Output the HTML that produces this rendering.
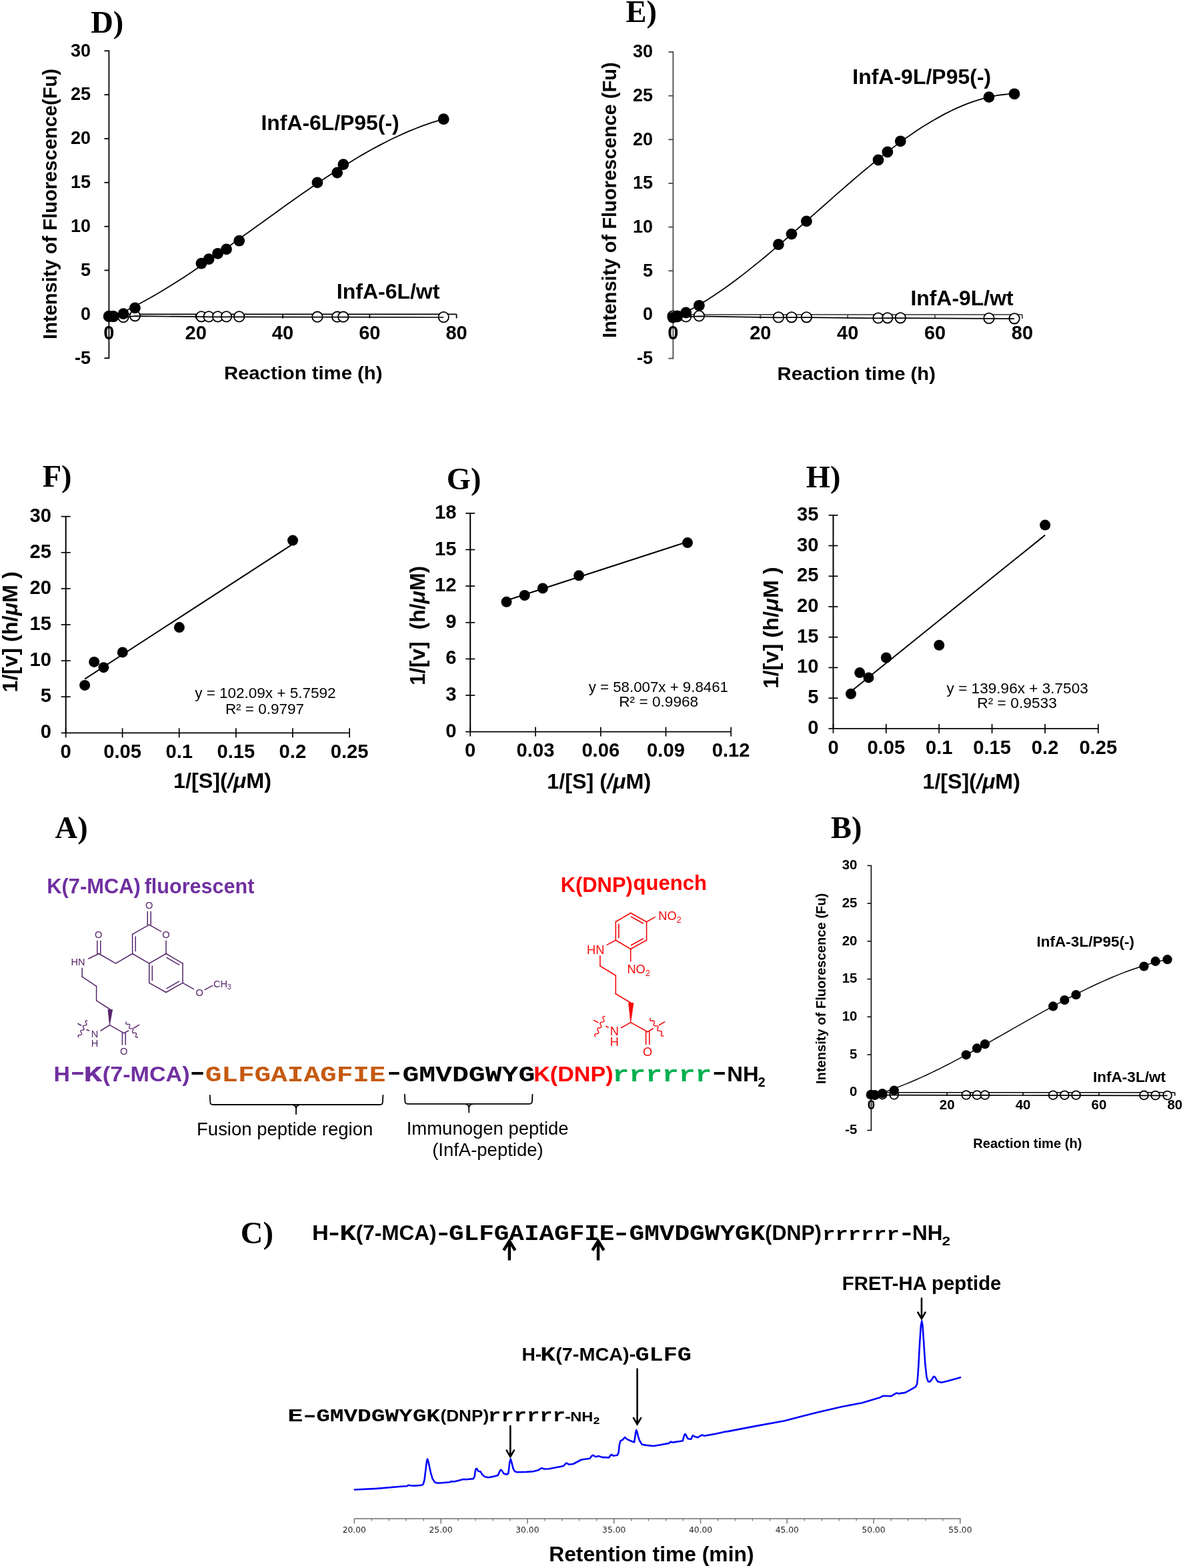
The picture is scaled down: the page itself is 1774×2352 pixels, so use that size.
<!DOCTYPE html>
<html lang="en"><head><meta charset="utf-8"><title>Figure</title>
<style>
html,body{margin:0;padding:0;background:#fff;}
svg{display:block;}
text{font-family:"Liberation Sans",Arial,Helvetica,sans-serif;}
text.s{font-family:"Liberation Sans",Arial,Helvetica,sans-serif;}
text.r{font-family:"Liberation Serif","Times New Roman",Times,serif;}
text.m{font-family:"Liberation Mono","Courier New",Courier,monospace;}
</style></head><body>
<svg width="1774" height="2352" viewBox="0 0 1774 2352">
<rect x="0" y="0" width="1774" height="2352" fill="#ffffff"/>
<g>
<line x1="163.4" y1="75.4" x2="163.4" y2="538.1" stroke="#000" stroke-width="1.8"/>
<line x1="163.4" y1="471.4" x2="684.6" y2="471.4" stroke="#000" stroke-width="1.8"/>
<line x1="156.4" y1="537.2" x2="163.4" y2="537.2" stroke="#000" stroke-width="1.8"/>
<text class="s" x="136.0" y="545.5" font-size="27" font-weight="bold" text-anchor="end">-5</text>
<line x1="156.4" y1="471.4" x2="163.4" y2="471.4" stroke="#000" stroke-width="1.8"/>
<text class="s" x="136.0" y="479.7" font-size="27" font-weight="bold" text-anchor="end">0</text>
<line x1="156.4" y1="405.5" x2="163.4" y2="405.5" stroke="#000" stroke-width="1.8"/>
<text class="s" x="136.0" y="413.8" font-size="27" font-weight="bold" text-anchor="end">5</text>
<line x1="156.4" y1="339.7" x2="163.4" y2="339.7" stroke="#000" stroke-width="1.8"/>
<text class="s" x="136.0" y="348.0" font-size="27" font-weight="bold" text-anchor="end">10</text>
<line x1="156.4" y1="273.8" x2="163.4" y2="273.8" stroke="#000" stroke-width="1.8"/>
<text class="s" x="136.0" y="282.1" font-size="27" font-weight="bold" text-anchor="end">15</text>
<line x1="156.4" y1="208.0" x2="163.4" y2="208.0" stroke="#000" stroke-width="1.8"/>
<text class="s" x="136.0" y="216.3" font-size="27" font-weight="bold" text-anchor="end">20</text>
<line x1="156.4" y1="142.1" x2="163.4" y2="142.1" stroke="#000" stroke-width="1.8"/>
<text class="s" x="136.0" y="150.4" font-size="27" font-weight="bold" text-anchor="end">25</text>
<line x1="156.4" y1="76.3" x2="163.4" y2="76.3" stroke="#000" stroke-width="1.8"/>
<text class="s" x="136.0" y="84.6" font-size="27" font-weight="bold" text-anchor="end">30</text>
<text class="s" x="163.4" y="508.9" font-size="29" font-weight="bold" text-anchor="middle">0</text>
<line x1="293.7" y1="471.4" x2="293.7" y2="477.4" stroke="#000" stroke-width="1.8"/>
<text class="s" x="293.7" y="508.9" font-size="29" font-weight="bold" text-anchor="middle">20</text>
<line x1="424.0" y1="471.4" x2="424.0" y2="477.4" stroke="#000" stroke-width="1.8"/>
<text class="s" x="424.0" y="508.9" font-size="29" font-weight="bold" text-anchor="middle">40</text>
<line x1="554.3" y1="471.4" x2="554.3" y2="477.4" stroke="#000" stroke-width="1.8"/>
<text class="s" x="554.3" y="508.9" font-size="29" font-weight="bold" text-anchor="middle">60</text>
<line x1="684.6" y1="471.4" x2="684.6" y2="477.4" stroke="#000" stroke-width="1.8"/>
<text class="s" x="684.6" y="508.9" font-size="29" font-weight="bold" text-anchor="middle">80</text>
<circle cx="163.4" cy="474.4" r="7.7" fill="#fff" stroke="#000" stroke-width="1.8"/>
<circle cx="170.0" cy="474.6" r="7.7" fill="#fff" stroke="#000" stroke-width="1.8"/>
<circle cx="185.0" cy="475.6" r="7.7" fill="#fff" stroke="#000" stroke-width="1.8"/>
<circle cx="202.4" cy="473.8" r="7.7" fill="#fff" stroke="#000" stroke-width="1.8"/>
<circle cx="301.9" cy="474.8" r="7.7" fill="#fff" stroke="#000" stroke-width="1.8"/>
<circle cx="313.1" cy="474.9" r="7.7" fill="#fff" stroke="#000" stroke-width="1.8"/>
<circle cx="326.6" cy="474.9" r="7.7" fill="#fff" stroke="#000" stroke-width="1.8"/>
<circle cx="339.5" cy="474.9" r="7.7" fill="#fff" stroke="#000" stroke-width="1.8"/>
<circle cx="358.7" cy="474.9" r="7.7" fill="#fff" stroke="#000" stroke-width="1.8"/>
<circle cx="475.9" cy="475.2" r="7.7" fill="#fff" stroke="#000" stroke-width="1.8"/>
<circle cx="505.7" cy="475.2" r="7.7" fill="#fff" stroke="#000" stroke-width="1.8"/>
<circle cx="514.8" cy="475.2" r="7.7" fill="#fff" stroke="#000" stroke-width="1.8"/>
<circle cx="665.2" cy="475.6" r="7.7" fill="#fff" stroke="#000" stroke-width="1.8"/>
<path d="M163.4,474.8 L170.0,475.0 L185.0,476.0 L202.4,474.2 L301.9,475.2 L313.1,475.3 L326.6,475.3 L339.5,475.3 L358.7,475.3 L475.9,475.6 L505.7,475.6 L514.8,475.6 L665.2,476.0" stroke="#000" stroke-width="1.7" fill="none"/>
<path d="M163.4,477.7 L171.9,474.0 L180.4,470.1 L188.9,466.0 L197.4,461.8 L205.9,457.3 L214.4,452.8 L222.9,448.0 L231.4,443.2 L239.9,438.2 L248.5,433.0 L257.0,427.8 L265.5,422.4 L274.0,417.0 L282.5,411.4 L291.0,405.8 L299.5,400.1 L308.0,394.2 L316.5,388.4 L325.0,382.4 L333.5,376.5 L342.0,370.4 L350.5,364.3 L359.0,358.2 L367.5,352.1 L376.0,346.0 L384.5,339.8 L393.0,333.7 L401.5,327.5 L410.0,321.4 L418.6,315.2 L427.1,309.1 L435.6,303.1 L444.1,297.1 L452.6,291.1 L461.1,285.2 L469.6,279.3 L478.1,273.5 L486.6,267.8 L495.1,262.2 L503.6,256.7 L512.1,251.2 L520.6,245.9 L529.1,240.7 L537.6,235.6 L546.1,230.6 L554.6,225.8 L563.1,221.1 L571.6,216.6 L580.1,212.2 L588.7,208.0 L597.2,204.0 L605.7,200.1 L614.2,196.4 L622.7,193.0 L631.2,189.7 L639.7,186.6 L648.2,183.7 L656.7,181.1 L665.2,178.7" stroke="#000" stroke-width="1.8" fill="none" stroke-linejoin="round"/>
<circle cx="163.4" cy="474.6" r="8.4" fill="#000"/>
<circle cx="170.0" cy="474.6" r="8.4" fill="#000"/>
<circle cx="185.0" cy="470.7" r="8.4" fill="#000"/>
<circle cx="202.4" cy="461.9" r="8.4" fill="#000"/>
<circle cx="301.9" cy="395.2" r="8.4" fill="#000"/>
<circle cx="313.1" cy="388.7" r="8.4" fill="#000"/>
<circle cx="326.6" cy="380.3" r="8.4" fill="#000"/>
<circle cx="339.5" cy="373.9" r="8.4" fill="#000"/>
<circle cx="358.7" cy="361.2" r="8.4" fill="#000"/>
<circle cx="475.9" cy="273.9" r="8.4" fill="#000"/>
<circle cx="505.7" cy="259.0" r="8.4" fill="#000"/>
<circle cx="514.8" cy="246.7" r="8.4" fill="#000"/>
<circle cx="665.2" cy="178.7" r="8.4" fill="#000"/>
</g>
<text class="r" x="136.2" y="49.4" font-size="46.5" font-weight="bold">D)</text>
<text class="s" x="85.0" y="508.9" font-size="28.7" font-weight="bold" transform="rotate(-90 85.0 508.9)" textLength="405.8" lengthAdjust="spacingAndGlyphs">Intensity of Fluorescence(Fu)</text>
<text class="s" x="335.9" y="568.8" font-size="28.5" font-weight="bold" textLength="237.6" lengthAdjust="spacingAndGlyphs">Reaction time (h)</text>
<text class="s" x="391.5" y="194.8" font-size="31" font-weight="bold" textLength="207.1" lengthAdjust="spacingAndGlyphs">InfA-6L/P95(-)</text>
<text class="s" x="504.8" y="448.3" font-size="31" font-weight="bold" textLength="154.6" lengthAdjust="spacingAndGlyphs">InfA-6L/wt</text>
<g>
<line x1="1009.4" y1="77.1" x2="1009.4" y2="538.5" stroke="#4a4a4a" stroke-width="1.8"/>
<line x1="1009.4" y1="471.9" x2="1533.0" y2="471.9" stroke="#4a4a4a" stroke-width="1.8"/>
<line x1="1002.4" y1="537.6" x2="1009.4" y2="537.6" stroke="#4a4a4a" stroke-width="1.8"/>
<text class="s" x="979.0" y="545.9" font-size="27" font-weight="bold" text-anchor="end">-5</text>
<line x1="1002.4" y1="471.9" x2="1009.4" y2="471.9" stroke="#4a4a4a" stroke-width="1.8"/>
<text class="s" x="979.0" y="480.2" font-size="27" font-weight="bold" text-anchor="end">0</text>
<line x1="1002.4" y1="406.3" x2="1009.4" y2="406.3" stroke="#4a4a4a" stroke-width="1.8"/>
<text class="s" x="979.0" y="414.6" font-size="27" font-weight="bold" text-anchor="end">5</text>
<line x1="1002.4" y1="340.6" x2="1009.4" y2="340.6" stroke="#4a4a4a" stroke-width="1.8"/>
<text class="s" x="979.0" y="348.9" font-size="27" font-weight="bold" text-anchor="end">10</text>
<line x1="1002.4" y1="275.0" x2="1009.4" y2="275.0" stroke="#4a4a4a" stroke-width="1.8"/>
<text class="s" x="979.0" y="283.3" font-size="27" font-weight="bold" text-anchor="end">15</text>
<line x1="1002.4" y1="209.3" x2="1009.4" y2="209.3" stroke="#4a4a4a" stroke-width="1.8"/>
<text class="s" x="979.0" y="217.6" font-size="27" font-weight="bold" text-anchor="end">20</text>
<line x1="1002.4" y1="143.7" x2="1009.4" y2="143.7" stroke="#4a4a4a" stroke-width="1.8"/>
<text class="s" x="979.0" y="152.0" font-size="27" font-weight="bold" text-anchor="end">25</text>
<line x1="1002.4" y1="78.0" x2="1009.4" y2="78.0" stroke="#4a4a4a" stroke-width="1.8"/>
<text class="s" x="979.0" y="86.3" font-size="27" font-weight="bold" text-anchor="end">30</text>
<text class="s" x="1009.4" y="508.9" font-size="29" font-weight="bold" text-anchor="middle">0</text>
<line x1="1140.3" y1="471.9" x2="1140.3" y2="477.9" stroke="#4a4a4a" stroke-width="1.8"/>
<text class="s" x="1140.3" y="508.9" font-size="29" font-weight="bold" text-anchor="middle">20</text>
<line x1="1271.2" y1="471.9" x2="1271.2" y2="477.9" stroke="#4a4a4a" stroke-width="1.8"/>
<text class="s" x="1271.2" y="508.9" font-size="29" font-weight="bold" text-anchor="middle">40</text>
<line x1="1402.1" y1="471.9" x2="1402.1" y2="477.9" stroke="#4a4a4a" stroke-width="1.8"/>
<text class="s" x="1402.1" y="508.9" font-size="29" font-weight="bold" text-anchor="middle">60</text>
<line x1="1533.0" y1="471.9" x2="1533.0" y2="477.9" stroke="#4a4a4a" stroke-width="1.8"/>
<text class="s" x="1533.0" y="508.9" font-size="29" font-weight="bold" text-anchor="middle">80</text>
<circle cx="1009.0" cy="474.1" r="7.7" fill="#fff" stroke="#000" stroke-width="1.8"/>
<circle cx="1015.6" cy="474.2" r="7.7" fill="#fff" stroke="#000" stroke-width="1.8"/>
<circle cx="1028.6" cy="474.9" r="7.7" fill="#fff" stroke="#000" stroke-width="1.8"/>
<circle cx="1048.4" cy="473.9" r="7.7" fill="#fff" stroke="#000" stroke-width="1.8"/>
<circle cx="1167.4" cy="475.9" r="7.7" fill="#fff" stroke="#000" stroke-width="1.8"/>
<circle cx="1187.0" cy="475.8" r="7.7" fill="#fff" stroke="#000" stroke-width="1.8"/>
<circle cx="1209.4" cy="475.8" r="7.7" fill="#fff" stroke="#000" stroke-width="1.8"/>
<circle cx="1317.0" cy="477.0" r="7.7" fill="#fff" stroke="#000" stroke-width="1.8"/>
<circle cx="1330.9" cy="476.8" r="7.7" fill="#fff" stroke="#000" stroke-width="1.8"/>
<circle cx="1350.3" cy="476.8" r="7.7" fill="#fff" stroke="#000" stroke-width="1.8"/>
<circle cx="1483.0" cy="477.4" r="7.7" fill="#fff" stroke="#000" stroke-width="1.8"/>
<circle cx="1521.1" cy="477.8" r="7.7" fill="#fff" stroke="#000" stroke-width="1.8"/>
<path d="M1009.0,474.5 L1015.6,474.6 L1028.6,475.3 L1048.4,474.3 L1167.4,476.3 L1187.0,476.2 L1209.4,476.2 L1317.0,477.4 L1330.9,477.2 L1350.3,477.2 L1483.0,477.8 L1521.1,478.2" stroke="#000" stroke-width="1.7" fill="none"/>
<path d="M1009.0,477.7 L1017.7,473.7 L1026.4,469.4 L1035.0,464.8 L1043.7,460.0 L1052.4,454.8 L1061.1,449.4 L1069.8,443.8 L1078.4,438.0 L1087.1,431.9 L1095.8,425.7 L1104.5,419.2 L1113.2,412.6 L1121.8,405.9 L1130.5,398.9 L1139.2,391.9 L1147.9,384.7 L1156.6,377.4 L1165.2,370.0 L1173.9,362.6 L1182.6,355.0 L1191.3,347.4 L1200.0,339.8 L1208.6,332.1 L1217.3,324.4 L1226.0,316.7 L1234.7,309.0 L1243.4,301.3 L1252.0,293.7 L1260.7,286.1 L1269.4,278.5 L1278.1,271.0 L1286.7,263.6 L1295.4,256.3 L1304.1,249.1 L1312.8,242.0 L1321.5,235.1 L1330.1,228.3 L1338.8,221.6 L1347.5,215.1 L1356.2,208.8 L1364.9,202.7 L1373.5,196.8 L1382.2,191.1 L1390.9,185.7 L1399.6,180.5 L1408.3,175.6 L1416.9,170.9 L1425.6,166.5 L1434.3,162.4 L1443.0,158.7 L1451.7,155.2 L1460.3,152.1 L1469.0,149.3 L1477.7,146.9 L1486.4,144.9 L1495.1,143.2 L1503.7,142.0 L1512.4,141.2 L1521.1,140.8" stroke="#000" stroke-width="1.8" fill="none" stroke-linejoin="round"/>
<circle cx="1009.0" cy="476.3" r="8.4" fill="#000"/>
<circle cx="1015.6" cy="475.0" r="8.4" fill="#000"/>
<circle cx="1028.6" cy="469.0" r="8.4" fill="#000"/>
<circle cx="1048.4" cy="458.3" r="8.4" fill="#000"/>
<circle cx="1167.4" cy="366.7" r="8.4" fill="#000"/>
<circle cx="1187.0" cy="351.1" r="8.4" fill="#000"/>
<circle cx="1209.4" cy="331.9" r="8.4" fill="#000"/>
<circle cx="1317.0" cy="240.0" r="8.4" fill="#000"/>
<circle cx="1330.9" cy="228.0" r="8.4" fill="#000"/>
<circle cx="1350.3" cy="211.8" r="8.4" fill="#000"/>
<circle cx="1483.0" cy="145.6" r="8.4" fill="#000"/>
<circle cx="1521.1" cy="140.8" r="8.4" fill="#000"/>
</g>
<text class="r" x="938.4" y="33.1" font-size="46.5" font-weight="bold">E)</text>
<text class="s" x="924.2" y="507.1" font-size="28.7" font-weight="bold" transform="rotate(-90 924.2 507.1)" textLength="413.9" lengthAdjust="spacingAndGlyphs">Intensity of Fluorescence (Fu)</text>
<text class="s" x="1165.5" y="570.2" font-size="28.5" font-weight="bold" textLength="237.5" lengthAdjust="spacingAndGlyphs">Reaction time (h)</text>
<text class="s" x="1278.3" y="125.6" font-size="31" font-weight="bold" textLength="207.9" lengthAdjust="spacingAndGlyphs">InfA-9L/P95(-)</text>
<text class="s" x="1365.4" y="457.6" font-size="31" font-weight="bold" textLength="154.2" lengthAdjust="spacingAndGlyphs">InfA-9L/wt</text>
<g>
<line x1="1306.4" y1="1297.7" x2="1306.4" y2="1696.2" stroke="#000" stroke-width="1.5"/>
<line x1="1306.4" y1="1638.8" x2="1761.8" y2="1638.8" stroke="#000" stroke-width="1.5"/>
<line x1="1300.4" y1="1695.5" x2="1306.4" y2="1695.5" stroke="#000" stroke-width="1.5"/>
<text class="s" x="1285.5" y="1701.1" font-size="20.5" font-weight="bold" text-anchor="end">-5</text>
<line x1="1300.4" y1="1638.8" x2="1306.4" y2="1638.8" stroke="#000" stroke-width="1.5"/>
<text class="s" x="1285.5" y="1644.4" font-size="20.5" font-weight="bold" text-anchor="end">0</text>
<line x1="1300.4" y1="1582.0" x2="1306.4" y2="1582.0" stroke="#000" stroke-width="1.5"/>
<text class="s" x="1285.5" y="1587.6" font-size="20.5" font-weight="bold" text-anchor="end">5</text>
<line x1="1300.4" y1="1525.3" x2="1306.4" y2="1525.3" stroke="#000" stroke-width="1.5"/>
<text class="s" x="1285.5" y="1530.9" font-size="20.5" font-weight="bold" text-anchor="end">10</text>
<line x1="1300.4" y1="1468.6" x2="1306.4" y2="1468.6" stroke="#000" stroke-width="1.5"/>
<text class="s" x="1285.5" y="1474.2" font-size="20.5" font-weight="bold" text-anchor="end">15</text>
<line x1="1300.4" y1="1411.9" x2="1306.4" y2="1411.9" stroke="#000" stroke-width="1.5"/>
<text class="s" x="1285.5" y="1417.5" font-size="20.5" font-weight="bold" text-anchor="end">20</text>
<line x1="1300.4" y1="1355.1" x2="1306.4" y2="1355.1" stroke="#000" stroke-width="1.5"/>
<text class="s" x="1285.5" y="1360.7" font-size="20.5" font-weight="bold" text-anchor="end">25</text>
<line x1="1300.4" y1="1298.4" x2="1306.4" y2="1298.4" stroke="#000" stroke-width="1.5"/>
<text class="s" x="1285.5" y="1304.0" font-size="20.5" font-weight="bold" text-anchor="end">30</text>
<text class="s" x="1306.4" y="1664.2" font-size="20.5" font-weight="bold" text-anchor="middle">0</text>
<line x1="1420.2" y1="1638.8" x2="1420.2" y2="1643.8" stroke="#000" stroke-width="1.5"/>
<text class="s" x="1420.2" y="1664.2" font-size="20.5" font-weight="bold" text-anchor="middle">20</text>
<line x1="1534.1" y1="1638.8" x2="1534.1" y2="1643.8" stroke="#000" stroke-width="1.5"/>
<text class="s" x="1534.1" y="1664.2" font-size="20.5" font-weight="bold" text-anchor="middle">40</text>
<line x1="1648.0" y1="1638.8" x2="1648.0" y2="1643.8" stroke="#000" stroke-width="1.5"/>
<text class="s" x="1648.0" y="1664.2" font-size="20.5" font-weight="bold" text-anchor="middle">60</text>
<line x1="1761.8" y1="1638.8" x2="1761.8" y2="1643.8" stroke="#000" stroke-width="1.5"/>
<text class="s" x="1761.8" y="1664.2" font-size="20.5" font-weight="bold" text-anchor="middle">80</text>
<circle cx="1306.0" cy="1642.2" r="6.4" fill="#fff" stroke="#000" stroke-width="1.8"/>
<circle cx="1311.8" cy="1642.2" r="6.4" fill="#fff" stroke="#000" stroke-width="1.8"/>
<circle cx="1323.2" cy="1642.2" r="6.4" fill="#fff" stroke="#000" stroke-width="1.8"/>
<circle cx="1340.8" cy="1642.3" r="6.4" fill="#fff" stroke="#000" stroke-width="1.8"/>
<circle cx="1448.8" cy="1642.5" r="6.4" fill="#fff" stroke="#000" stroke-width="1.8"/>
<circle cx="1465.0" cy="1642.5" r="6.4" fill="#fff" stroke="#000" stroke-width="1.8"/>
<circle cx="1477.0" cy="1642.5" r="6.4" fill="#fff" stroke="#000" stroke-width="1.8"/>
<circle cx="1579.2" cy="1642.7" r="6.4" fill="#fff" stroke="#000" stroke-width="1.8"/>
<circle cx="1596.4" cy="1642.7" r="6.4" fill="#fff" stroke="#000" stroke-width="1.8"/>
<circle cx="1613.6" cy="1642.7" r="6.4" fill="#fff" stroke="#000" stroke-width="1.8"/>
<circle cx="1715.5" cy="1642.9" r="6.4" fill="#fff" stroke="#000" stroke-width="1.8"/>
<circle cx="1732.7" cy="1643.0" r="6.4" fill="#fff" stroke="#000" stroke-width="1.8"/>
<circle cx="1750.6" cy="1643.0" r="6.4" fill="#fff" stroke="#000" stroke-width="1.8"/>
<path d="M1306.0,1642.6 L1311.8,1642.6 L1323.2,1642.6 L1340.8,1642.7 L1448.8,1642.9 L1465.0,1642.9 L1477.0,1642.9 L1579.2,1643.1 L1596.4,1643.1 L1613.6,1643.1 L1715.5,1643.3 L1732.7,1643.4 L1750.6,1643.4" stroke="#000" stroke-width="1.7" fill="none"/>
<path d="M1306.0,1644.5 L1313.5,1642.2 L1321.1,1639.8 L1328.6,1637.3 L1336.1,1634.7 L1343.7,1631.9 L1351.2,1628.9 L1358.7,1625.9 L1366.3,1622.7 L1373.8,1619.5 L1381.4,1616.1 L1388.9,1612.7 L1396.4,1609.1 L1404.0,1605.5 L1411.5,1601.8 L1419.0,1598.0 L1426.6,1594.1 L1434.1,1590.2 L1441.6,1586.2 L1449.2,1582.1 L1456.7,1578.0 L1464.2,1573.9 L1471.8,1569.7 L1479.3,1565.5 L1486.9,1561.3 L1494.4,1557.0 L1501.9,1552.8 L1509.5,1548.5 L1517.0,1544.2 L1524.5,1539.9 L1532.1,1535.7 L1539.6,1531.4 L1547.1,1527.2 L1554.7,1522.9 L1562.2,1518.7 L1569.7,1514.6 L1577.3,1510.5 L1584.8,1506.4 L1592.4,1502.4 L1599.9,1498.4 L1607.4,1494.5 L1615.0,1490.6 L1622.5,1486.9 L1630.0,1483.2 L1637.6,1479.5 L1645.1,1476.0 L1652.6,1472.6 L1660.2,1469.3 L1667.7,1466.0 L1675.2,1462.9 L1682.8,1459.9 L1690.3,1457.0 L1697.9,1454.3 L1705.4,1451.7 L1712.9,1449.2 L1720.5,1446.8 L1728.0,1444.6 L1735.5,1442.6 L1743.1,1440.7 L1750.6,1439.0" stroke="#000" stroke-width="1.5" fill="none" stroke-linejoin="round"/>
<circle cx="1306.0" cy="1641.9" r="7.1" fill="#000"/>
<circle cx="1311.8" cy="1642.9" r="7.1" fill="#000"/>
<circle cx="1323.2" cy="1640.1" r="7.1" fill="#000"/>
<circle cx="1340.8" cy="1635.5" r="7.1" fill="#000"/>
<circle cx="1448.8" cy="1582.3" r="7.1" fill="#000"/>
<circle cx="1465.0" cy="1572.4" r="7.1" fill="#000"/>
<circle cx="1477.0" cy="1566.2" r="7.1" fill="#000"/>
<circle cx="1579.2" cy="1509.4" r="7.1" fill="#000"/>
<circle cx="1596.4" cy="1500.1" r="7.1" fill="#000"/>
<circle cx="1613.6" cy="1492.2" r="7.1" fill="#000"/>
<circle cx="1715.5" cy="1449.5" r="7.1" fill="#000"/>
<circle cx="1732.7" cy="1441.9" r="7.1" fill="#000"/>
<circle cx="1750.6" cy="1439.2" r="7.1" fill="#000"/>
</g>
<text class="r" x="1246.1" y="1257.4" font-size="46.5" font-weight="bold">B)</text>
<text class="s" x="1237.8" y="1626.0" font-size="20.5" font-weight="bold" transform="rotate(-90 1237.8 1626.0)" textLength="286.2" lengthAdjust="spacingAndGlyphs">Intensity of Fluorescence (Fu)</text>
<text class="s" x="1459.2" y="1721.7" font-size="20.3" font-weight="bold" textLength="163.3" lengthAdjust="spacingAndGlyphs">Reaction time (h)</text>
<text class="s" x="1554.6" y="1419.5" font-size="22.3" font-weight="bold" textLength="146.4" lengthAdjust="spacingAndGlyphs">InfA-3L/P95(-)</text>
<text class="s" x="1639.0" y="1622.9" font-size="22.3" font-weight="bold" textLength="109.0" lengthAdjust="spacingAndGlyphs">InfA-3L/wt</text>
<line x1="98.7" y1="773.9" x2="98.7" y2="1100.1" stroke="#000" stroke-width="2.0"/>
<line x1="91.7" y1="1099.3" x2="525.0" y2="1099.3" stroke="#000" stroke-width="1.7"/>
<line x1="91.7" y1="774.7" x2="105.7" y2="774.7" stroke="#000" stroke-width="1.7"/>
<text class="s" x="77.0" y="782.8" font-size="29.2" font-weight="bold" text-anchor="end">30</text>
<line x1="91.7" y1="828.8" x2="105.7" y2="828.8" stroke="#000" stroke-width="1.7"/>
<text class="s" x="77.0" y="836.9" font-size="29.2" font-weight="bold" text-anchor="end">25</text>
<line x1="91.7" y1="882.9" x2="105.7" y2="882.9" stroke="#000" stroke-width="1.7"/>
<text class="s" x="77.0" y="891.0" font-size="29.2" font-weight="bold" text-anchor="end">20</text>
<line x1="91.7" y1="937.0" x2="105.7" y2="937.0" stroke="#000" stroke-width="1.7"/>
<text class="s" x="77.0" y="945.1" font-size="29.2" font-weight="bold" text-anchor="end">15</text>
<line x1="91.7" y1="991.1" x2="105.7" y2="991.1" stroke="#000" stroke-width="1.7"/>
<text class="s" x="77.0" y="999.2" font-size="29.2" font-weight="bold" text-anchor="end">10</text>
<line x1="91.7" y1="1045.2" x2="105.7" y2="1045.2" stroke="#000" stroke-width="1.7"/>
<text class="s" x="77.0" y="1053.3" font-size="29.2" font-weight="bold" text-anchor="end">5</text>
<text class="s" x="77.0" y="1107.4" font-size="29.2" font-weight="bold" text-anchor="end">0</text>
<line x1="98.7" y1="1092.3" x2="98.7" y2="1106.3" stroke="#000" stroke-width="1.7"/>
<text class="s" x="98.7" y="1136.6" font-size="29.2" font-weight="bold" text-anchor="middle">0</text>
<line x1="183.6" y1="1092.3" x2="183.6" y2="1106.3" stroke="#000" stroke-width="1.7"/>
<text class="s" x="183.6" y="1136.6" font-size="29.2" font-weight="bold" text-anchor="middle">0.05</text>
<line x1="268.7" y1="1092.3" x2="268.7" y2="1106.3" stroke="#000" stroke-width="1.7"/>
<text class="s" x="268.7" y="1136.6" font-size="29.2" font-weight="bold" text-anchor="middle">0.1</text>
<line x1="353.9" y1="1092.3" x2="353.9" y2="1106.3" stroke="#000" stroke-width="1.7"/>
<text class="s" x="353.9" y="1136.6" font-size="29.2" font-weight="bold" text-anchor="middle">0.15</text>
<line x1="438.9" y1="1092.3" x2="438.9" y2="1106.3" stroke="#000" stroke-width="1.7"/>
<text class="s" x="438.9" y="1136.6" font-size="29.2" font-weight="bold" text-anchor="middle">0.2</text>
<line x1="524.1" y1="1092.3" x2="524.1" y2="1106.3" stroke="#000" stroke-width="1.7"/>
<text class="s" x="524.1" y="1136.6" font-size="29.2" font-weight="bold" text-anchor="middle">0.25</text>
<line x1="127.1" y1="1018.6" x2="439.0" y2="816.1" stroke="#000" stroke-width="2.0"/>
<circle cx="127.1" cy="1027.9" r="8" fill="#000"/>
<circle cx="141.2" cy="992.9" r="8" fill="#000"/>
<circle cx="155.4" cy="1001.2" r="8" fill="#000"/>
<circle cx="183.8" cy="978.4" r="8" fill="#000"/>
<circle cx="268.9" cy="941.1" r="8" fill="#000"/>
<circle cx="439.0" cy="810.6" r="8" fill="#000"/>
<text class="r" x="63.7" y="729.6" font-size="46.5" font-weight="bold">F)</text>
<text class="s" x="25.8" y="1038.6" font-size="32" font-weight="bold" transform="rotate(-90 25.8 1038.6)" textLength="181.4" lengthAdjust="spacingAndGlyphs">1/[v] (h/<tspan font-style="italic">μ</tspan>M )</text>
<text class="s" x="260.0" y="1182.3" font-size="31.3" font-weight="bold" textLength="147.1" lengthAdjust="spacingAndGlyphs">1/[S](<tspan font-style="italic">/μ</tspan>M)</text>
<text class="s" x="292.2" y="1047.3" font-size="21.8" textLength="211.3" lengthAdjust="spacingAndGlyphs">y = 102.09x + 5.7592</text>
<text class="s" x="337.9" y="1071.1" font-size="21.8" textLength="118.1" lengthAdjust="spacingAndGlyphs">R² = 0.9797</text>
<line x1="705.2" y1="769.0" x2="705.2" y2="1098.4" stroke="#000" stroke-width="2.0"/>
<line x1="698.2" y1="1097.6" x2="1097.0" y2="1097.6" stroke="#000" stroke-width="1.7"/>
<line x1="698.2" y1="769.9" x2="712.2" y2="769.9" stroke="#000" stroke-width="1.7"/>
<text class="s" x="684.5" y="777.9" font-size="29.2" font-weight="bold" text-anchor="end">18</text>
<line x1="698.2" y1="824.5" x2="712.2" y2="824.5" stroke="#000" stroke-width="1.7"/>
<text class="s" x="684.5" y="832.5" font-size="29.2" font-weight="bold" text-anchor="end">15</text>
<line x1="698.2" y1="879.1" x2="712.2" y2="879.1" stroke="#000" stroke-width="1.7"/>
<text class="s" x="684.5" y="887.1" font-size="29.2" font-weight="bold" text-anchor="end">12</text>
<line x1="698.2" y1="933.8" x2="712.2" y2="933.8" stroke="#000" stroke-width="1.7"/>
<text class="s" x="684.5" y="941.8" font-size="29.2" font-weight="bold" text-anchor="end">9</text>
<line x1="698.2" y1="988.4" x2="712.2" y2="988.4" stroke="#000" stroke-width="1.7"/>
<text class="s" x="684.5" y="996.4" font-size="29.2" font-weight="bold" text-anchor="end">6</text>
<line x1="698.2" y1="1043.0" x2="712.2" y2="1043.0" stroke="#000" stroke-width="1.7"/>
<text class="s" x="684.5" y="1051.0" font-size="29.2" font-weight="bold" text-anchor="end">3</text>
<text class="s" x="684.5" y="1105.6" font-size="29.2" font-weight="bold" text-anchor="end">0</text>
<line x1="705.2" y1="1090.6" x2="705.2" y2="1104.6" stroke="#000" stroke-width="1.7"/>
<text class="s" x="705.2" y="1135.3" font-size="29.2" font-weight="bold" text-anchor="middle">0</text>
<line x1="803.0" y1="1090.6" x2="803.0" y2="1104.6" stroke="#000" stroke-width="1.7"/>
<text class="s" x="803.0" y="1135.3" font-size="29.2" font-weight="bold" text-anchor="middle">0.03</text>
<line x1="900.8" y1="1090.6" x2="900.8" y2="1104.6" stroke="#000" stroke-width="1.7"/>
<text class="s" x="900.8" y="1135.3" font-size="29.2" font-weight="bold" text-anchor="middle">0.06</text>
<line x1="998.5" y1="1090.6" x2="998.5" y2="1104.6" stroke="#000" stroke-width="1.7"/>
<text class="s" x="998.5" y="1135.3" font-size="29.2" font-weight="bold" text-anchor="middle">0.09</text>
<line x1="1096.2" y1="1090.6" x2="1096.2" y2="1104.6" stroke="#000" stroke-width="1.7"/>
<text class="s" x="1096.2" y="1135.3" font-size="29.2" font-weight="bold" text-anchor="middle">0.12</text>
<line x1="759.5" y1="900.7" x2="1031.0" y2="812.7" stroke="#000" stroke-width="2.0"/>
<circle cx="759.5" cy="902.8" r="8" fill="#000"/>
<circle cx="786.7" cy="893.0" r="8" fill="#000"/>
<circle cx="813.8" cy="882.4" r="8" fill="#000"/>
<circle cx="868.1" cy="863.3" r="8" fill="#000"/>
<circle cx="1031.0" cy="814.1" r="8" fill="#000"/>
<text class="r" x="669.8" y="734.3" font-size="46.5" font-weight="bold">G)</text>
<text class="s" x="636.6" y="1028.0" font-size="32" font-weight="bold" transform="rotate(-90 636.6 1028.0)" textLength="179.2" lengthAdjust="spacingAndGlyphs">1/[v]<tspan xml:space="preserve">  </tspan>(h/<tspan font-style="italic">μ</tspan>M)</text>
<text class="s" x="820.3" y="1182.9" font-size="31.3" font-weight="bold" textLength="156.0" lengthAdjust="spacingAndGlyphs">1/[S] (<tspan font-style="italic">/μ</tspan>M)</text>
<text class="s" x="882.7" y="1037.9" font-size="21.8" textLength="209.3" lengthAdjust="spacingAndGlyphs">y = 58.007x + 9.8461</text>
<text class="s" x="928.2" y="1060.2" font-size="21.8" textLength="119.0" lengthAdjust="spacingAndGlyphs">R² = 0.9968</text>
<line x1="1249.5" y1="771.9" x2="1249.5" y2="1093.8" stroke="#000" stroke-width="2.0"/>
<line x1="1242.5" y1="1092.9" x2="1647.6" y2="1092.9" stroke="#000" stroke-width="1.7"/>
<line x1="1242.5" y1="772.8" x2="1256.5" y2="772.8" stroke="#000" stroke-width="1.7"/>
<text class="s" x="1227.5" y="780.8" font-size="29.2" font-weight="bold" text-anchor="end">35</text>
<line x1="1242.5" y1="818.5" x2="1256.5" y2="818.5" stroke="#000" stroke-width="1.7"/>
<text class="s" x="1227.5" y="826.5" font-size="29.2" font-weight="bold" text-anchor="end">30</text>
<line x1="1242.5" y1="864.3" x2="1256.5" y2="864.3" stroke="#000" stroke-width="1.7"/>
<text class="s" x="1227.5" y="872.3" font-size="29.2" font-weight="bold" text-anchor="end">25</text>
<line x1="1242.5" y1="910.0" x2="1256.5" y2="910.0" stroke="#000" stroke-width="1.7"/>
<text class="s" x="1227.5" y="918.0" font-size="29.2" font-weight="bold" text-anchor="end">20</text>
<line x1="1242.5" y1="955.7" x2="1256.5" y2="955.7" stroke="#000" stroke-width="1.7"/>
<text class="s" x="1227.5" y="963.7" font-size="29.2" font-weight="bold" text-anchor="end">15</text>
<line x1="1242.5" y1="1001.4" x2="1256.5" y2="1001.4" stroke="#000" stroke-width="1.7"/>
<text class="s" x="1227.5" y="1009.4" font-size="29.2" font-weight="bold" text-anchor="end">10</text>
<line x1="1242.5" y1="1047.2" x2="1256.5" y2="1047.2" stroke="#000" stroke-width="1.7"/>
<text class="s" x="1227.5" y="1055.2" font-size="29.2" font-weight="bold" text-anchor="end">5</text>
<text class="s" x="1227.5" y="1100.9" font-size="29.2" font-weight="bold" text-anchor="end">0</text>
<line x1="1249.5" y1="1085.9" x2="1249.5" y2="1099.9" stroke="#000" stroke-width="1.7"/>
<text class="s" x="1249.5" y="1130.8" font-size="29.2" font-weight="bold" text-anchor="middle">0</text>
<line x1="1328.8" y1="1085.9" x2="1328.8" y2="1099.9" stroke="#000" stroke-width="1.7"/>
<text class="s" x="1328.8" y="1130.8" font-size="29.2" font-weight="bold" text-anchor="middle">0.05</text>
<line x1="1408.2" y1="1085.9" x2="1408.2" y2="1099.9" stroke="#000" stroke-width="1.7"/>
<text class="s" x="1408.2" y="1130.8" font-size="29.2" font-weight="bold" text-anchor="middle">0.1</text>
<line x1="1487.6" y1="1085.9" x2="1487.6" y2="1099.9" stroke="#000" stroke-width="1.7"/>
<text class="s" x="1487.6" y="1130.8" font-size="29.2" font-weight="bold" text-anchor="middle">0.15</text>
<line x1="1567.1" y1="1085.9" x2="1567.1" y2="1099.9" stroke="#000" stroke-width="1.7"/>
<text class="s" x="1567.1" y="1130.8" font-size="29.2" font-weight="bold" text-anchor="middle">0.2</text>
<line x1="1646.8" y1="1085.9" x2="1646.8" y2="1099.9" stroke="#000" stroke-width="1.7"/>
<text class="s" x="1646.8" y="1130.8" font-size="29.2" font-weight="bold" text-anchor="middle">0.25</text>
<line x1="1276.0" y1="1037.3" x2="1567.2" y2="802.6" stroke="#000" stroke-width="2.0"/>
<circle cx="1276.0" cy="1040.8" r="8" fill="#000"/>
<circle cx="1289.2" cy="1009.1" r="8" fill="#000"/>
<circle cx="1302.5" cy="1016.4" r="8" fill="#000"/>
<circle cx="1328.9" cy="986.5" r="8" fill="#000"/>
<circle cx="1408.3" cy="967.8" r="8" fill="#000"/>
<circle cx="1567.2" cy="787.6" r="8" fill="#000"/>
<text class="r" x="1208.8" y="731.4" font-size="46.5" font-weight="bold">H)</text>
<text class="s" x="1166.9" y="1032.7" font-size="32" font-weight="bold" transform="rotate(-90 1166.9 1032.7)" textLength="182.4" lengthAdjust="spacingAndGlyphs">1/[v] (h/<tspan font-style="italic">μ</tspan>M )</text>
<text class="s" x="1383.5" y="1183.2" font-size="31.3" font-weight="bold" textLength="146.4" lengthAdjust="spacingAndGlyphs">1/[S](<tspan font-style="italic">/μ</tspan>M)</text>
<text class="s" x="1419.6" y="1039.7" font-size="21.8" textLength="212.2" lengthAdjust="spacingAndGlyphs">y = 139.96x + 3.7503</text>
<text class="s" x="1465.2" y="1062.4" font-size="21.8" textLength="119.8" lengthAdjust="spacingAndGlyphs">R² = 0.9533</text>
<text class="r" x="82.6" y="1257.1" font-size="46.5" font-weight="bold">A)</text>
<text class="s" x="70.2" y="1339.7" font-size="30.5" font-weight="bold" fill="#7030A0" textLength="140.6" lengthAdjust="spacingAndGlyphs">K(7-MCA)</text>
<text class="s" x="216.7" y="1339.7" font-size="30.5" font-weight="bold" fill="#7030A0" textLength="164.7" lengthAdjust="spacingAndGlyphs">fluorescent</text>
<text class="s" x="840.7" y="1338.1" font-size="31.5" font-weight="bold" fill="#FF0000" textLength="108.1" lengthAdjust="spacingAndGlyphs">K(DNP)</text>
<text class="s" x="949.6" y="1335.3" font-size="31.5" font-weight="bold" fill="#FF0000" textLength="110.3" lengthAdjust="spacingAndGlyphs">quench</text>
<g>
<line x1="226.2" y1="1387.2" x2="226.2" y2="1367.5" stroke="#55256A" stroke-width="1.5" stroke-linecap="round"/>
<line x1="221.2" y1="1387.2" x2="221.2" y2="1367.5" stroke="#55256A" stroke-width="1.5" stroke-linecap="round"/>
<line x1="223.7" y1="1387.2" x2="198.6" y2="1401.3" stroke="#55256A" stroke-width="1.5" stroke-linecap="round"/>
<line x1="198.6" y1="1401.3" x2="198.6" y2="1430.5" stroke="#55256A" stroke-width="1.5" stroke-linecap="round"/>
<line x1="203.2" y1="1405.1" x2="203.2" y2="1426.7" stroke="#55256A" stroke-width="1.5" stroke-linecap="round"/>
<line x1="198.6" y1="1430.5" x2="223.7" y2="1445.1" stroke="#55256A" stroke-width="1.5" stroke-linecap="round"/>
<line x1="223.7" y1="1445.1" x2="249.0" y2="1430.5" stroke="#55256A" stroke-width="1.5" stroke-linecap="round"/>
<line x1="249.0" y1="1430.5" x2="249.0" y2="1411.2" stroke="#55256A" stroke-width="1.5" stroke-linecap="round"/>
<line x1="223.7" y1="1387.2" x2="241.4" y2="1397.2" stroke="#55256A" stroke-width="1.5" stroke-linecap="round"/>
<line x1="223.7" y1="1445.1" x2="223.7" y2="1474.3" stroke="#55256A" stroke-width="1.5" stroke-linecap="round"/>
<line x1="228.3" y1="1448.9" x2="228.3" y2="1470.5" stroke="#55256A" stroke-width="1.5" stroke-linecap="round"/>
<line x1="223.7" y1="1474.3" x2="249.0" y2="1488.5" stroke="#55256A" stroke-width="1.5" stroke-linecap="round"/>
<line x1="249.0" y1="1488.5" x2="274.0" y2="1474.3" stroke="#55256A" stroke-width="1.5" stroke-linecap="round"/>
<line x1="250.0" y1="1482.7" x2="268.5" y2="1472.1" stroke="#55256A" stroke-width="1.5" stroke-linecap="round"/>
<line x1="274.0" y1="1474.3" x2="274.0" y2="1445.1" stroke="#55256A" stroke-width="1.5" stroke-linecap="round"/>
<line x1="274.0" y1="1445.1" x2="249.0" y2="1430.5" stroke="#55256A" stroke-width="1.5" stroke-linecap="round"/>
<line x1="268.4" y1="1447.2" x2="249.9" y2="1436.4" stroke="#55256A" stroke-width="1.5" stroke-linecap="round"/>
<line x1="274.0" y1="1474.3" x2="290.3" y2="1483.6" stroke="#55256A" stroke-width="1.5" stroke-linecap="round"/>
<line x1="307.2" y1="1484.6" x2="318.6" y2="1478.3" stroke="#55256A" stroke-width="1.5" stroke-linecap="round"/>
<line x1="198.6" y1="1430.5" x2="173.5" y2="1445.1" stroke="#55256A" stroke-width="1.5" stroke-linecap="round"/>
<line x1="173.5" y1="1445.1" x2="148.3" y2="1430.5" stroke="#55256A" stroke-width="1.5" stroke-linecap="round"/>
<line x1="150.8" y1="1430.5" x2="150.8" y2="1411.3" stroke="#55256A" stroke-width="1.5" stroke-linecap="round"/>
<line x1="145.8" y1="1430.5" x2="145.8" y2="1411.3" stroke="#55256A" stroke-width="1.5" stroke-linecap="round"/>
<line x1="148.3" y1="1430.5" x2="132.6" y2="1438.0" stroke="#55256A" stroke-width="1.5" stroke-linecap="round"/>
<line x1="123.2" y1="1452.2" x2="123.2" y2="1465.1" stroke="#55256A" stroke-width="1.5" stroke-linecap="round"/>
<line x1="123.2" y1="1465.1" x2="144.6" y2="1479.4" stroke="#55256A" stroke-width="1.5" stroke-linecap="round"/>
<line x1="144.6" y1="1479.4" x2="144.6" y2="1500.8" stroke="#55256A" stroke-width="1.5" stroke-linecap="round"/>
<line x1="144.6" y1="1500.8" x2="165.0" y2="1514.0" stroke="#55256A" stroke-width="1.5" stroke-linecap="round"/>
<polygon points="164.4,1537.7 168.6,1514.6 162.0,1514.4" fill="#55256A" stroke="#55256A" stroke-width="0.8" stroke-linejoin="round"/>
<line x1="164.4" y1="1537.7" x2="151.1" y2="1546.0" stroke="#55256A" stroke-width="1.5" stroke-linecap="round"/>
<line x1="164.4" y1="1537.7" x2="185.8" y2="1549.6" stroke="#55256A" stroke-width="1.5" stroke-linecap="round"/>
<line x1="183.4" y1="1549.6" x2="183.4" y2="1567.0" stroke="#55256A" stroke-width="1.5" stroke-linecap="round"/>
<line x1="188.2" y1="1549.6" x2="188.2" y2="1567.0" stroke="#55256A" stroke-width="1.5" stroke-linecap="round"/>
<line x1="185.8" y1="1549.6" x2="192.8" y2="1546.0" stroke="#55256A" stroke-width="1.5" stroke-linecap="round"/>
<line x1="200.7" y1="1542.0" x2="208.6" y2="1537.3" stroke="#55256A" stroke-width="1.5" stroke-linecap="round"/>
<path d="M189.2,1533.0 L188.9,1533.8 L188.8,1534.5 L188.7,1535.2 L188.8,1535.7 L189.2,1536.0 L189.7,1536.2 L190.4,1536.3 L191.2,1536.3 L192.0,1536.3 L192.8,1536.3 L193.6,1536.3 L194.1,1536.5 L194.5,1536.8 L194.6,1537.3 L194.6,1537.9 L194.4,1538.7 L194.2,1539.5 L193.9,1540.3 L193.7,1541.0 L193.7,1541.7 L193.8,1542.2 L194.1,1542.6 L194.6,1542.8 L195.2,1542.9 L196.0,1542.9 L196.9,1542.8 L197.7,1542.8 L198.4,1542.9 L199.0,1543.1 L199.4,1543.4 L199.6,1543.8 L199.6,1544.4 L199.4,1545.1 L199.2,1545.9 L198.9,1546.7 L198.7,1547.5 L198.6,1548.1 L198.7,1548.7 L198.9,1549.1 L199.4,1549.3 L200.1,1549.4 L200.8,1549.5 L201.7,1549.4 L202.5,1549.4 L203.2,1549.4 L203.9,1549.6 L204.3,1549.9 L204.5,1550.3 L204.5,1550.9 L204.4,1551.6 L204.1,1552.4 L203.9,1553.2 L203.7,1553.9 L203.5,1554.6 L203.6,1555.2 L203.8,1555.6 L204.3,1555.9 L204.9,1556.0 L205.7,1556.0 L206.5,1556.0" stroke="#55256A" stroke-width="1.3" fill="none" stroke-linecap="round" stroke-linejoin="round"/>
<path d="M130.9,1530.9 L130.1,1531.0 L129.3,1531.2 L128.7,1531.4 L128.4,1531.7 L128.2,1532.2 L128.2,1532.7 L128.5,1533.4 L128.8,1534.1 L129.2,1534.8 L129.6,1535.5 L129.8,1536.2 L129.9,1536.7 L129.8,1537.2 L129.4,1537.6 L128.9,1537.8 L128.1,1537.9 L127.3,1538.1 L126.5,1538.2 L125.8,1538.3 L125.1,1538.5 L124.7,1538.8 L124.5,1539.3 L124.5,1539.8 L124.7,1540.4 L125.1,1541.1 L125.5,1541.9 L125.9,1542.6 L126.1,1543.3 L126.2,1543.8 L126.1,1544.3 L125.8,1544.7 L125.3,1544.9 L124.6,1545.1 L123.8,1545.2 L122.9,1545.3 L122.2,1545.4 L121.5,1545.6 L121.1,1545.9 L120.8,1546.4 L120.8,1546.9 L121.0,1547.5 L121.3,1548.2 L121.7,1548.9 L122.1,1549.7 L122.4,1550.3 L122.6,1550.9 L122.5,1551.4 L122.2,1551.8 L121.7,1552.1 L121.0,1552.3 L120.2,1552.4 L119.4,1552.5 L118.6,1552.6 L117.9,1552.8 L117.4,1553.1 L117.2,1553.5 L117.1,1554.0 L117.3,1554.6 L117.6,1555.3 L118.0,1556.0" stroke="#55256A" stroke-width="1.3" fill="none" stroke-linecap="round" stroke-linejoin="round"/>
<line x1="116.9" y1="1535.5" x2="121.6" y2="1538.0" stroke="#55256A" stroke-width="1.5" stroke-linecap="round"/>
<line x1="130.2" y1="1544.5" x2="133.5" y2="1546.0" stroke="#55256A" stroke-width="1.5" stroke-linecap="round"/>
<text class="s" x="223.7" y="1363.0" font-size="14.6" text-anchor="middle" fill="#55256A">O</text>
<text class="s" x="249.0" y="1406.5" font-size="14.6" text-anchor="middle" fill="#55256A">O</text>
<text class="s" x="299.3" y="1494.4" font-size="14.6" text-anchor="middle" fill="#55256A">O</text>
<text class="s" x="147.8" y="1407.2" font-size="14.6" text-anchor="middle" fill="#55256A">O</text>
<text class="s" x="106.4" y="1448.4" font-size="14.6" fill="#55256A">HN</text>
<text class="s" x="320.0" y="1481.0" font-size="14.6" fill="#55256A">CH<tspan font-size="10.5" dy="3.3">3</tspan></text>
<text class="s" x="141.9" y="1555.5" font-size="14.6" text-anchor="middle" fill="#55256A">N</text>
<text class="s" x="141.9" y="1569.9" font-size="14.6" text-anchor="middle" fill="#55256A">H</text>
<text class="s" x="185.8" y="1582.0" font-size="14.6" text-anchor="middle" fill="#55256A">O</text>
</g>
<g>
<line x1="923.3" y1="1410.3" x2="923.3" y2="1382.7" stroke="#F50A0A" stroke-width="1.6" stroke-linecap="round"/>
<line x1="927.9" y1="1406.7" x2="927.9" y2="1386.3" stroke="#F50A0A" stroke-width="1.6" stroke-linecap="round"/>
<line x1="923.3" y1="1382.7" x2="945.7" y2="1369.5" stroke="#F50A0A" stroke-width="1.6" stroke-linecap="round"/>
<line x1="945.7" y1="1369.5" x2="969.6" y2="1382.7" stroke="#F50A0A" stroke-width="1.6" stroke-linecap="round"/>
<line x1="946.6" y1="1375.2" x2="964.3" y2="1385.0" stroke="#F50A0A" stroke-width="1.6" stroke-linecap="round"/>
<line x1="969.6" y1="1382.7" x2="969.6" y2="1410.3" stroke="#F50A0A" stroke-width="1.6" stroke-linecap="round"/>
<line x1="969.6" y1="1410.3" x2="945.7" y2="1423.5" stroke="#F50A0A" stroke-width="1.6" stroke-linecap="round"/>
<line x1="964.3" y1="1408.0" x2="946.6" y2="1417.8" stroke="#F50A0A" stroke-width="1.6" stroke-linecap="round"/>
<line x1="945.7" y1="1423.5" x2="923.3" y2="1410.3" stroke="#F50A0A" stroke-width="1.6" stroke-linecap="round"/>
<line x1="969.6" y1="1382.7" x2="982.4" y2="1375.6" stroke="#F50A0A" stroke-width="1.6" stroke-linecap="round"/>
<line x1="945.7" y1="1423.5" x2="945.7" y2="1441.9" stroke="#F50A0A" stroke-width="1.6" stroke-linecap="round"/>
<line x1="923.3" y1="1410.3" x2="910.1" y2="1417.4" stroke="#F50A0A" stroke-width="1.6" stroke-linecap="round"/>
<line x1="899.9" y1="1433.9" x2="899.9" y2="1449.0" stroke="#F50A0A" stroke-width="1.6" stroke-linecap="round"/>
<line x1="899.9" y1="1449.0" x2="923.3" y2="1463.3" stroke="#F50A0A" stroke-width="1.6" stroke-linecap="round"/>
<line x1="923.3" y1="1463.3" x2="923.3" y2="1490.8" stroke="#F50A0A" stroke-width="1.6" stroke-linecap="round"/>
<line x1="923.3" y1="1490.8" x2="945.7" y2="1504.0" stroke="#F50A0A" stroke-width="1.6" stroke-linecap="round"/>
<polygon points="945.7,1533.6 950.0,1504.6 942.6,1504.4" fill="#F50A0A" stroke="#F50A0A" stroke-width="0.8" stroke-linejoin="round"/>
<line x1="945.7" y1="1533.6" x2="931.5" y2="1541.7" stroke="#F50A0A" stroke-width="1.6" stroke-linecap="round"/>
<line x1="945.7" y1="1533.6" x2="971.2" y2="1547.8" stroke="#F50A0A" stroke-width="1.6" stroke-linecap="round"/>
<line x1="968.6" y1="1547.8" x2="968.6" y2="1566.4" stroke="#F50A0A" stroke-width="1.6" stroke-linecap="round"/>
<line x1="973.8" y1="1547.8" x2="973.8" y2="1566.4" stroke="#F50A0A" stroke-width="1.6" stroke-linecap="round"/>
<line x1="971.2" y1="1547.8" x2="979.4" y2="1542.8" stroke="#F50A0A" stroke-width="1.6" stroke-linecap="round"/>
<line x1="988.5" y1="1537.7" x2="996.7" y2="1532.6" stroke="#F50A0A" stroke-width="1.6" stroke-linecap="round"/>
<path d="M975.3,1527.5 L975.0,1528.4 L974.8,1529.2 L974.8,1529.9 L974.9,1530.5 L975.3,1530.9 L975.9,1531.2 L976.6,1531.3 L977.5,1531.3 L978.5,1531.3 L979.4,1531.3 L980.2,1531.4 L980.8,1531.6 L981.2,1532.0 L981.4,1532.6 L981.3,1533.2 L981.2,1534.1 L980.9,1534.9 L980.6,1535.8 L980.4,1536.7 L980.3,1537.4 L980.4,1538.0 L980.8,1538.4 L981.3,1538.7 L982.1,1538.8 L982.9,1538.9 L983.9,1538.9 L984.8,1538.9 L985.6,1538.9 L986.3,1539.2 L986.7,1539.5 L986.9,1540.0 L986.9,1540.7 L986.7,1541.5 L986.5,1542.4 L986.2,1543.3 L985.9,1544.1 L985.8,1544.9 L985.9,1545.5 L986.2,1546.0 L986.8,1546.2 L987.5,1546.4 L988.4,1546.4 L989.3,1546.4 L990.2,1546.4 L991.0,1546.5 L991.7,1546.7 L992.2,1547.0 L992.4,1547.5 L992.5,1548.2 L992.3,1549.0 L992.1,1549.8 L991.8,1550.7 L991.5,1551.6 L991.4,1552.4 L991.4,1553.0 L991.7,1553.5 L992.2,1553.8 L992.9,1553.9 L993.8,1554.0 L994.7,1554.0" stroke="#F50A0A" stroke-width="1.4" fill="none" stroke-linecap="round" stroke-linejoin="round"/>
<path d="M907.0,1524.4 L906.1,1524.6 L905.3,1524.8 L904.6,1525.1 L904.2,1525.6 L904.0,1526.1 L904.0,1526.7 L904.3,1527.5 L904.7,1528.3 L905.2,1529.1 L905.6,1529.9 L905.9,1530.7 L905.9,1531.4 L905.8,1531.9 L905.4,1532.4 L904.8,1532.7 L904.0,1532.9 L903.0,1533.1 L902.1,1533.3 L901.3,1533.5 L900.6,1533.8 L900.1,1534.2 L899.9,1534.8 L899.9,1535.4 L900.2,1536.1 L900.5,1536.9 L901.0,1537.8 L901.4,1538.6 L901.7,1539.3 L901.9,1540.0 L901.8,1540.6 L901.4,1541.0 L900.8,1541.4 L900.0,1541.6 L899.1,1541.8 L898.2,1542.0 L897.3,1542.2 L896.6,1542.5 L896.1,1542.9 L895.8,1543.4 L895.8,1544.0 L896.0,1544.8 L896.4,1545.5 L896.9,1546.4 L897.3,1547.2 L897.6,1548.0 L897.8,1548.7 L897.7,1549.3 L897.4,1549.7 L896.8,1550.1 L896.0,1550.3 L895.1,1550.5 L894.2,1550.7 L893.3,1550.9 L892.6,1551.2 L892.1,1551.6 L891.8,1552.1 L891.7,1552.7 L891.9,1553.4 L892.3,1554.2 L892.7,1555.0" stroke="#F50A0A" stroke-width="1.4" fill="none" stroke-linecap="round" stroke-linejoin="round"/>
<line x1="890.7" y1="1530.5" x2="896.8" y2="1533.6" stroke="#F50A0A" stroke-width="1.6" stroke-linecap="round"/>
<line x1="909.0" y1="1539.7" x2="912.1" y2="1541.0" stroke="#F50A0A" stroke-width="1.6" stroke-linecap="round"/>
<text class="s" x="987.3" y="1379.7" font-size="18.2" fill="#F50A0A">NO<tspan font-size="13" dy="4">2</tspan></text>
<text class="s" x="940.4" y="1460.2" font-size="18.2" fill="#F50A0A">NO<tspan font-size="13" dy="4">2</tspan></text>
<text class="s" x="880.0" y="1430.8" font-size="18.2" fill="#F50A0A">HN</text>
<text class="s" x="921.3" y="1553.0" font-size="18.2" text-anchor="middle" fill="#F50A0A">N</text>
<text class="s" x="921.3" y="1569.4" font-size="18.2" text-anchor="middle" fill="#F50A0A">H</text>
<text class="s" x="971.2" y="1583.6" font-size="18.2" text-anchor="middle" fill="#F50A0A">O</text>
</g>
<g>
<text class="s" x="80.6" y="1622.0" font-size="32" font-weight="bold" fill="#7030A0" textLength="24.4" lengthAdjust="spacingAndGlyphs">H</text>
<text class="m" x="98.7" y="1619.0" font-size="33.5" font-weight="bold" fill="#7030A0" textLength="35.3" lengthAdjust="spacingAndGlyphs">-</text>
<text class="m" x="125.2" y="1622.0" font-size="33.5" font-weight="bold" fill="#7030A0" textLength="28.3" lengthAdjust="spacingAndGlyphs">K</text>
<text class="s" x="153.8" y="1622.0" font-size="32" font-weight="bold" fill="#7030A0" textLength="130.8" lengthAdjust="spacingAndGlyphs">(7-MCA)</text>
<text class="m" x="277.7" y="1619.0" font-size="33.5" font-weight="bold" textLength="36.6" lengthAdjust="spacingAndGlyphs">-</text>
<text class="m" x="307.7" y="1622.0" font-size="33.5" font-weight="bold" fill="#C55A11" textLength="270.8" lengthAdjust="spacingAndGlyphs">GLFGAIAGFIE</text>
<text class="m" x="574.8" y="1619.0" font-size="33.5" font-weight="bold" textLength="32.5" lengthAdjust="spacingAndGlyphs">-</text>
<text class="m" x="603.4" y="1622.0" font-size="33.5" font-weight="bold" textLength="198.9" lengthAdjust="spacingAndGlyphs">GMVDGWYG</text>
<text class="s" x="800.2" y="1622.0" font-size="32" font-weight="bold" fill="#FF0000" textLength="119.4" lengthAdjust="spacingAndGlyphs">K(DNP)</text>
<text class="m" x="918.6" y="1622.0" font-size="33.5" font-weight="bold" fill="#00B050" textLength="148.7" lengthAdjust="spacingAndGlyphs">rrrrrr</text>
<text class="m" x="1061.8" y="1619.0" font-size="33.5" font-weight="bold" textLength="34.2" lengthAdjust="spacingAndGlyphs">-</text>
<text class="s" x="1090.2" y="1622.0" font-size="32" font-weight="bold" textLength="47.5" lengthAdjust="spacingAndGlyphs">NH</text>
<text class="s" x="1136.6" y="1630.3" font-size="19.5" font-weight="bold" textLength="11.2" lengthAdjust="spacingAndGlyphs">2</text>
</g>
<path d="M314.7,1642.8 L315.3,1653.5 Q315.5,1657.0 319.2,1657.0 L569.9,1657.0 Q573.6,1657.0 573.8,1653.5 L574.4,1642.8 M438.0,1657.0 Q443.5,1657.5 444.0,1663.0 Q444.5,1657.5 450.0,1657.0 M444.0,1660.0 L444.0,1671.0" stroke="#000" stroke-width="1.8" fill="none" stroke-linecap="round" stroke-linejoin="round"/>
<path d="M606.8,1641.6 L607.4,1652.3 Q607.6,1655.8 611.3,1655.8 L794.0,1655.8 Q797.7,1655.8 797.9,1652.3 L798.5,1641.6 M697.2,1655.8 Q702.7,1656.3 703.2,1661.8 Q703.7,1656.3 709.2,1655.8 M703.2,1658.8 L703.2,1668.6" stroke="#000" stroke-width="1.8" fill="none" stroke-linecap="round" stroke-linejoin="round"/>
<text class="s" x="295.1" y="1703.0" font-size="27" textLength="264.1" lengthAdjust="spacingAndGlyphs">Fusion peptide region</text>
<text class="s" x="609.7" y="1701.6" font-size="27" textLength="242.9" lengthAdjust="spacingAndGlyphs">Immunogen peptide</text>
<text class="s" x="648.2" y="1734.0" font-size="27" textLength="166.4" lengthAdjust="spacingAndGlyphs">(InfA-peptide)</text>
<text class="r" x="360.8" y="1865.2" font-size="46.5" font-weight="bold">C)</text>
<g>
<text class="s" x="467.9" y="1860.1" font-size="30.5" font-weight="bold" textLength="24.8" lengthAdjust="spacingAndGlyphs">H</text>
<text class="m" x="487.7" y="1860.1" font-size="33" font-weight="bold" textLength="26.6" lengthAdjust="spacingAndGlyphs">-</text>
<text class="m" x="509.3" y="1860.1" font-size="33" font-weight="bold" textLength="24.9" lengthAdjust="spacingAndGlyphs">K</text>
<text class="s" x="533.7" y="1860.1" font-size="30.5" font-weight="bold" textLength="120.9" lengthAdjust="spacingAndGlyphs">(7-MCA)</text>
<text class="m" x="651.2" y="1860.1" font-size="33" font-weight="bold" textLength="26.8" lengthAdjust="spacingAndGlyphs">-</text>
<text class="m" x="673.0" y="1860.1" font-size="33" font-weight="bold" textLength="248.4" lengthAdjust="spacingAndGlyphs">GLFGAIAGFIE</text>
<text class="m" x="916.5" y="1860.1" font-size="33" font-weight="bold" textLength="30.2" lengthAdjust="spacingAndGlyphs">-</text>
<text class="m" x="943.5" y="1860.1" font-size="33" font-weight="bold" textLength="203.9" lengthAdjust="spacingAndGlyphs">GMVDGWYGK</text>
<text class="s" x="1147.3" y="1860.1" font-size="30.5" font-weight="bold" textLength="84.6" lengthAdjust="spacingAndGlyphs">(DNP)</text>
<text class="m" x="1233.2" y="1860.1" font-size="28" font-weight="bold" textLength="115.6" lengthAdjust="spacingAndGlyphs">rrrrrr</text>
<text class="m" x="1346.8" y="1860.1" font-size="33" font-weight="bold" textLength="25.4" lengthAdjust="spacingAndGlyphs">-</text>
<text class="s" x="1367.9" y="1860.1" font-size="30.5" font-weight="bold" textLength="45.5" lengthAdjust="spacingAndGlyphs">NH</text>
<text class="s" x="1412.5" y="1868.1" font-size="19" font-weight="bold" textLength="12.7" lengthAdjust="spacingAndGlyphs">2</text>
</g>
<path d="M763.9,1890.6 L763.9,1863.0 M755.3,1875.5 L763.9,1861.5 L772.5,1875.5" stroke="#000" stroke-width="4.4" fill="none" stroke-linejoin="miter"/>
<path d="M897.0,1890.6 L897.0,1863.0 M888.4,1875.5 L897.0,1861.5 L905.6,1875.5" stroke="#000" stroke-width="4.4" fill="none" stroke-linejoin="miter"/>
<path d="M765.3,2139.1 L765.3,2184.3 M759.7,2175.5 L765.3,2185.1 L770.9,2175.5" stroke="#000" stroke-width="2.6" fill="none" stroke-linejoin="miter" stroke-linecap="round"/>
<path d="M955.6,2053.5 L955.6,2135.6 M950.0,2126.8 L955.6,2136.4 L961.2,2126.8" stroke="#000" stroke-width="2.6" fill="none" stroke-linejoin="miter" stroke-linecap="round"/>
<path d="M1382.0,1947.5 L1382.0,1977.3 M1376.4,1968.5 L1382.0,1978.1 L1387.6,1968.5" stroke="#000" stroke-width="2.6" fill="none" stroke-linejoin="miter" stroke-linecap="round"/>
<text class="s" x="1262.8" y="1934.9" font-size="28.6" font-weight="bold" textLength="238.6" lengthAdjust="spacingAndGlyphs">FRET-HA peptide</text>
<g>
<text class="s" x="782.4" y="2041.0" font-size="28.5" font-weight="bold" textLength="29.8" lengthAdjust="spacingAndGlyphs">H-</text>
<text class="m" x="810.3" y="2041.0" font-size="29.7" font-weight="bold" textLength="22.7" lengthAdjust="spacingAndGlyphs">K</text>
<text class="s" x="833.2" y="2041.0" font-size="28.5" font-weight="bold" textLength="120.1" lengthAdjust="spacingAndGlyphs">(7-MCA)-</text>
<text class="m" x="952.4" y="2041.0" font-size="29.7" font-weight="bold" textLength="84.5" lengthAdjust="spacingAndGlyphs">GLFG</text>
</g>
<g>
<text class="m" x="431.2" y="2131.7" font-size="28" font-weight="bold" textLength="23.2" lengthAdjust="spacingAndGlyphs">E</text>
<text class="m" x="449.1" y="2131.7" font-size="28" font-weight="bold" textLength="31.1" lengthAdjust="spacingAndGlyphs">-</text>
<text class="m" x="474.2" y="2131.7" font-size="28" font-weight="bold" textLength="185.8" lengthAdjust="spacingAndGlyphs">GMVDGWYGK</text>
<text class="s" x="660.5" y="2131.7" font-size="24.5" font-weight="bold" textLength="72.6" lengthAdjust="spacingAndGlyphs">(DNP)</text>
<text class="m" x="731.8" y="2131.7" font-size="28" font-weight="bold" textLength="116.2" lengthAdjust="spacingAndGlyphs">rrrrrr</text>
<text class="s" x="847.0" y="2131.7" font-size="22" font-weight="bold" textLength="8.9" lengthAdjust="spacingAndGlyphs">-</text>
<text class="s" x="855.2" y="2131.7" font-size="20.5" font-weight="bold" textLength="34.0" lengthAdjust="spacingAndGlyphs">NH</text>
<text class="s" x="889.4" y="2136.2" font-size="14" font-weight="bold" textLength="9.9" lengthAdjust="spacingAndGlyphs">2</text>
</g>
<line x1="531.3" y1="2278.0" x2="1440.5" y2="2278.0" stroke="#6e6e6e" stroke-width="1.3"/>
<line x1="531.3" y1="2278.0" x2="531.3" y2="2285.5" stroke="#6e6e6e" stroke-width="1.4"/>
<text class="s" x="531.3" y="2298.6" font-size="12.3" text-anchor="middle" fill="#1c1c1c" style="font-family:&quot;DejaVu Sans&quot;,&quot;Liberation Sans&quot;,sans-serif">20.00</text>
<line x1="557.3" y1="2278.0" x2="557.3" y2="2281.5" stroke="#6e6e6e" stroke-width="1.2"/>
<line x1="583.2" y1="2278.0" x2="583.2" y2="2281.5" stroke="#6e6e6e" stroke-width="1.2"/>
<line x1="609.2" y1="2278.0" x2="609.2" y2="2281.5" stroke="#6e6e6e" stroke-width="1.2"/>
<line x1="635.1" y1="2278.0" x2="635.1" y2="2281.5" stroke="#6e6e6e" stroke-width="1.2"/>
<line x1="661.1" y1="2278.0" x2="661.1" y2="2285.5" stroke="#6e6e6e" stroke-width="1.4"/>
<text class="s" x="661.1" y="2298.6" font-size="12.3" text-anchor="middle" fill="#1c1c1c" style="font-family:&quot;DejaVu Sans&quot;,&quot;Liberation Sans&quot;,sans-serif">25.00</text>
<line x1="687.1" y1="2278.0" x2="687.1" y2="2281.5" stroke="#6e6e6e" stroke-width="1.2"/>
<line x1="713.0" y1="2278.0" x2="713.0" y2="2281.5" stroke="#6e6e6e" stroke-width="1.2"/>
<line x1="739.0" y1="2278.0" x2="739.0" y2="2281.5" stroke="#6e6e6e" stroke-width="1.2"/>
<line x1="764.9" y1="2278.0" x2="764.9" y2="2281.5" stroke="#6e6e6e" stroke-width="1.2"/>
<line x1="790.9" y1="2278.0" x2="790.9" y2="2285.5" stroke="#6e6e6e" stroke-width="1.4"/>
<text class="s" x="790.9" y="2298.6" font-size="12.3" text-anchor="middle" fill="#1c1c1c" style="font-family:&quot;DejaVu Sans&quot;,&quot;Liberation Sans&quot;,sans-serif">30.00</text>
<line x1="816.9" y1="2278.0" x2="816.9" y2="2281.5" stroke="#6e6e6e" stroke-width="1.2"/>
<line x1="842.8" y1="2278.0" x2="842.8" y2="2281.5" stroke="#6e6e6e" stroke-width="1.2"/>
<line x1="868.8" y1="2278.0" x2="868.8" y2="2281.5" stroke="#6e6e6e" stroke-width="1.2"/>
<line x1="894.7" y1="2278.0" x2="894.7" y2="2281.5" stroke="#6e6e6e" stroke-width="1.2"/>
<line x1="920.7" y1="2278.0" x2="920.7" y2="2285.5" stroke="#6e6e6e" stroke-width="1.4"/>
<text class="s" x="920.7" y="2298.6" font-size="12.3" text-anchor="middle" fill="#1c1c1c" style="font-family:&quot;DejaVu Sans&quot;,&quot;Liberation Sans&quot;,sans-serif">35.00</text>
<line x1="946.7" y1="2278.0" x2="946.7" y2="2281.5" stroke="#6e6e6e" stroke-width="1.2"/>
<line x1="972.6" y1="2278.0" x2="972.6" y2="2281.5" stroke="#6e6e6e" stroke-width="1.2"/>
<line x1="998.6" y1="2278.0" x2="998.6" y2="2281.5" stroke="#6e6e6e" stroke-width="1.2"/>
<line x1="1024.5" y1="2278.0" x2="1024.5" y2="2281.5" stroke="#6e6e6e" stroke-width="1.2"/>
<line x1="1050.5" y1="2278.0" x2="1050.5" y2="2285.5" stroke="#6e6e6e" stroke-width="1.4"/>
<text class="s" x="1050.5" y="2298.6" font-size="12.3" text-anchor="middle" fill="#1c1c1c" style="font-family:&quot;DejaVu Sans&quot;,&quot;Liberation Sans&quot;,sans-serif">40.00</text>
<line x1="1076.5" y1="2278.0" x2="1076.5" y2="2281.5" stroke="#6e6e6e" stroke-width="1.2"/>
<line x1="1102.4" y1="2278.0" x2="1102.4" y2="2281.5" stroke="#6e6e6e" stroke-width="1.2"/>
<line x1="1128.4" y1="2278.0" x2="1128.4" y2="2281.5" stroke="#6e6e6e" stroke-width="1.2"/>
<line x1="1154.3" y1="2278.0" x2="1154.3" y2="2281.5" stroke="#6e6e6e" stroke-width="1.2"/>
<line x1="1180.3" y1="2278.0" x2="1180.3" y2="2285.5" stroke="#6e6e6e" stroke-width="1.4"/>
<text class="s" x="1180.3" y="2298.6" font-size="12.3" text-anchor="middle" fill="#1c1c1c" style="font-family:&quot;DejaVu Sans&quot;,&quot;Liberation Sans&quot;,sans-serif">45.00</text>
<line x1="1206.3" y1="2278.0" x2="1206.3" y2="2281.5" stroke="#6e6e6e" stroke-width="1.2"/>
<line x1="1232.2" y1="2278.0" x2="1232.2" y2="2281.5" stroke="#6e6e6e" stroke-width="1.2"/>
<line x1="1258.2" y1="2278.0" x2="1258.2" y2="2281.5" stroke="#6e6e6e" stroke-width="1.2"/>
<line x1="1284.1" y1="2278.0" x2="1284.1" y2="2281.5" stroke="#6e6e6e" stroke-width="1.2"/>
<line x1="1310.1" y1="2278.0" x2="1310.1" y2="2285.5" stroke="#6e6e6e" stroke-width="1.4"/>
<text class="s" x="1310.1" y="2298.6" font-size="12.3" text-anchor="middle" fill="#1c1c1c" style="font-family:&quot;DejaVu Sans&quot;,&quot;Liberation Sans&quot;,sans-serif">50.00</text>
<line x1="1336.1" y1="2278.0" x2="1336.1" y2="2281.5" stroke="#6e6e6e" stroke-width="1.2"/>
<line x1="1362.0" y1="2278.0" x2="1362.0" y2="2281.5" stroke="#6e6e6e" stroke-width="1.2"/>
<line x1="1388.0" y1="2278.0" x2="1388.0" y2="2281.5" stroke="#6e6e6e" stroke-width="1.2"/>
<line x1="1413.9" y1="2278.0" x2="1413.9" y2="2281.5" stroke="#6e6e6e" stroke-width="1.2"/>
<line x1="1439.9" y1="2278.0" x2="1439.9" y2="2285.5" stroke="#6e6e6e" stroke-width="1.4"/>
<text class="s" x="1439.9" y="2298.6" font-size="12.3" text-anchor="middle" fill="#1c1c1c" style="font-family:&quot;DejaVu Sans&quot;,&quot;Liberation Sans&quot;,sans-serif">55.00</text>
<text class="s" x="823.2" y="2341.7" font-size="31" font-weight="bold" textLength="307.3" lengthAdjust="spacingAndGlyphs">Retention time (min)</text>
<path d="M531.9,2234.5 L565.0,2232.9 L600.9,2229.8 L609.9,2229.3 L612.6,2227.7 L615.3,2228.2 L622.5,2228.6 L632.4,2227.8 L634.7,2226.2 L636.5,2219.9 L638.7,2201.9 L640.1,2191.2 L641.0,2188.5 L641.9,2190.8 L643.2,2196.5 L645.9,2209.1 L648.6,2218.1 L652.2,2223.5 L656.7,2224.8 L674.7,2223.2 L676.5,2222.1 L678.6,2222.4 L681.9,2222.3 L692.7,2219.4 L695.4,2218.7 L698.1,2219.2 L709.7,2218.1 L711.5,2215.4 L712.4,2209.1 L713.3,2203.7 L715.1,2202.8 L716.9,2206.4 L718.7,2207.3 L720.5,2207.3 L723.2,2211.8 L726.8,2215.1 L732.2,2216.3 L739.4,2214.9 L746.6,2213.1 L748.4,2209.1 L749.9,2205.9 L751.1,2204.6 L752.9,2206.4 L755.6,2210.6 L760.1,2211.8 L762.3,2210.0 L763.3,2201.9 L764.4,2192.9 L765.7,2188.5 L766.9,2192.1 L768.2,2197.4 L769.6,2202.8 L771.8,2207.0 L775.4,2208.2 L789.8,2207.9 L800.0,2207.1 L807.2,2205.3 L810.4,2203.2 L812.6,2202.1 L816.2,2203.5 L823.4,2203.2 L845.0,2199.0 L847.7,2196.0 L849.5,2194.5 L853.1,2196.7 L859.4,2196.0 L871.9,2189.5 L884.5,2187.7 L887.2,2184.1 L889.0,2182.8 L893.5,2185.2 L898.0,2184.1 L902.5,2185.9 L913.3,2186.4 L915.5,2182.8 L916.9,2181.9 L919.6,2183.7 L925.9,2182.8 L927.7,2178.3 L928.8,2167.6 L930.4,2161.3 L934.0,2159.5 L937.1,2155.9 L940.3,2158.9 L945.7,2161.3 L951.1,2163.4 L952.2,2156.8 L953.2,2148.7 L954.3,2145.1 L955.4,2148.1 L956.8,2154.1 L959.2,2161.3 L962.8,2166.7 L969.1,2167.9 L979.9,2169.0 L990.6,2167.2 L1003.2,2164.9 L1005.9,2162.5 L1008.6,2163.6 L1023.9,2161.3 L1025.2,2155.9 L1026.3,2152.3 L1027.5,2151.0 L1028.8,2152.8 L1030.2,2155.9 L1032.0,2158.2 L1036.5,2158.6 L1037.9,2155.0 L1039.2,2153.2 L1041.9,2155.0 L1046.4,2156.2 L1050.9,2153.5 L1052.7,2152.6 L1056.3,2153.7 L1069.8,2151.4 L1087.8,2147.4 L1090.0,2147.4 L1133.2,2139.1 L1176.3,2131.2 L1202.2,2124.5 L1226.0,2118.6 L1262.7,2110.0 L1292.9,2104.2 L1318.8,2096.6 L1324.2,2093.8 L1336.1,2094.3 L1341.5,2091.2 L1344.3,2089.5 L1347.9,2090.4 L1357.6,2088.9 L1366.3,2084.1 L1373.2,2080.2 L1375.3,2075.5 L1376.4,2063.6 L1377.5,2046.3 L1379.2,2014.0 L1381.0,1988.1 L1382.3,1981.6 L1383.5,1988.1 L1385.3,2014.0 L1387.4,2046.3 L1389.6,2065.8 L1391.7,2072.2 L1394.3,2072.7 L1397.6,2069.0 L1399.3,2065.8 L1400.8,2064.7 L1402.3,2065.8 L1403.4,2067.9 L1406.2,2072.2 L1411.6,2073.7 L1420.2,2071.8 L1440.1,2066.2" stroke="#0505FA" stroke-width="2.6" fill="none" stroke-linejoin="round" stroke-linecap="round"/>
</svg>
</body></html>
